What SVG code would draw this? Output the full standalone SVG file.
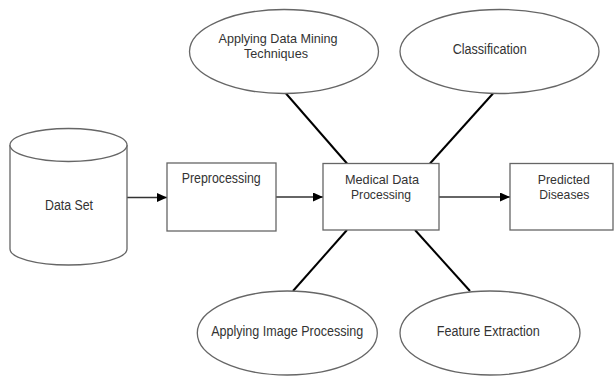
<svg xmlns="http://www.w3.org/2000/svg" width="614" height="376" viewBox="0 0 614 376">
  <defs>
    <marker id="arrow" markerWidth="10" markerHeight="9" refX="10" refY="4.5" orient="auto" markerUnits="userSpaceOnUse">
      <path d="M0,0 L10,4.5 L0,9 Z" fill="#000"/>
    </marker>
    <style>
      .shape { fill: #fff; stroke: #666; stroke-width: 1.3; }
      .label { font-family: "Liberation Sans Narrow", "Liberation Sans", Arial, sans-serif; font-size: 14px; fill: #333; text-anchor: middle; }
      .tight { font-size: 13px; }
      .flow { stroke: #333; stroke-width: 1.5; fill: none; marker-end: url(#arrow); }
      .link { stroke: #000; stroke-width: 2; fill: none; }
    </style>
  </defs>
  <rect width="614" height="376" fill="#fff"/>

  <!-- connectors -->
  <g id="connectors">
    <line class="flow" x1="127" y1="197.5" x2="167" y2="197.5"/>
    <line class="flow" x1="276" y1="197" x2="323" y2="197"/>
    <line class="flow" x1="439" y1="197" x2="510" y2="197"/>
    <line class="link" x1="286" y1="93.5" x2="347" y2="163.5"/>
    <line class="link" x1="493" y1="93.5" x2="430" y2="163.5"/>
    <line class="link" x1="347" y1="230" x2="293" y2="291"/>
    <line class="link" x1="415" y1="230" x2="470" y2="291"/>
  </g>

  <!-- data store -->
  <g id="data-set">
    <path class="shape" d="M10,145 L10,249 A58.5,16 0 0 0 127,249 L127,145"/>
    <ellipse class="shape" cx="68.5" cy="145" rx="58.5" ry="16.5"/>
    <text class="label" x="69" y="210" textLength="48" lengthAdjust="spacingAndGlyphs">Data Set</text>
  </g>

  <g id="preprocessing">
    <rect class="shape" x="167" y="163" width="109" height="68"/>
    <text class="label" x="221.2" y="183.3" textLength="79" lengthAdjust="spacingAndGlyphs">Preprocessing</text>
  </g>

  <g id="medical-data-processing">
    <rect class="shape" x="323" y="163.5" width="116" height="66.5"/>
    <text class="label tight" x="382" y="183.5" textLength="74" lengthAdjust="spacingAndGlyphs">Medical Data</text>
    <text class="label tight" x="381" y="198.5" textLength="60" lengthAdjust="spacingAndGlyphs">Processing</text>
  </g>

  <g id="predicted-diseases">
    <rect class="shape" x="510" y="163.5" width="103" height="66.5"/>
    <text class="label tight" x="563.8" y="183.5" textLength="52" lengthAdjust="spacingAndGlyphs">Predicted</text>
    <text class="label tight" x="564.3" y="198.5" textLength="50" lengthAdjust="spacingAndGlyphs">Diseases</text>
  </g>

  <g id="data-mining">
    <ellipse class="shape" cx="284" cy="51.5" rx="94.5" ry="42"/>
    <text class="label tight" x="278" y="43" textLength="119" lengthAdjust="spacingAndGlyphs">Applying Data Mining</text>
    <text class="label tight" x="276" y="57.5" textLength="64" lengthAdjust="spacingAndGlyphs">Techniques</text>
  </g>

  <g id="classification">
    <ellipse class="shape" cx="499.5" cy="51.5" rx="99.5" ry="42"/>
    <text class="label" x="489.7" y="53.5" textLength="74" lengthAdjust="spacingAndGlyphs">Classification</text>
  </g>

  <g id="image-processing">
    <ellipse class="shape" cx="287.3" cy="333" rx="90" ry="42"/>
    <text class="label" x="287.2" y="335.5" textLength="152" lengthAdjust="spacingAndGlyphs">Applying Image Processing</text>
  </g>

  <g id="feature-extraction">
    <ellipse class="shape" cx="490" cy="333" rx="90" ry="42"/>
    <text class="label" x="488.3" y="335.5" textLength="103" lengthAdjust="spacingAndGlyphs">Feature Extraction</text>
  </g>
</svg>
